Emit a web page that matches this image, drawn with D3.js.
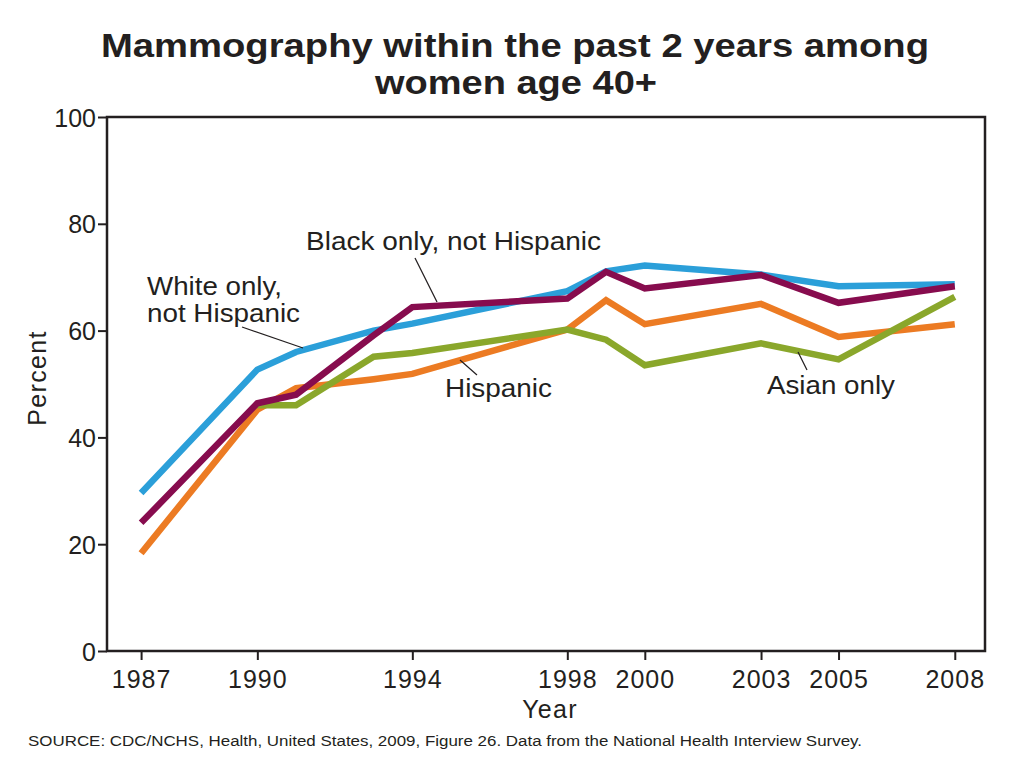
<!DOCTYPE html>
<html>
<head>
<meta charset="utf-8">
<script src="https://cdn.jsdelivr.net/npm/d3@7/dist/d3.min.js"></script>
<style>
  body { margin: 0; background: #fff; }
  text { font-family: "Liberation Sans", Arial, sans-serif; fill: #231f20; }
</style>
</head>
<body>
<div id="chart"></div>
<script>
const W = 1024, H = 768;
const X0 = 107, X1 = 985, Y0 = 117, Y1 = 651;

const years = [1987, 1990, 1991, 1993, 1994, 1998, 1999, 2000, 2003, 2005, 2008];
const tickYears = [1987, 1990, 1994, 1998, 2000, 2003, 2005, 2008];
const tickPct = [0, 20, 40, 60, 80, 100];

const white    = [29.6, 52.7, 56.0, 60.0, 61.3, 67.4, 71.1, 72.2, 70.5, 68.3, 68.7];
const black    = [24.0, 46.4, 48.0, 59.1, 64.4, 66.0, 71.0, 67.9, 70.4, 65.2, 68.3];
const hispanic = [18.3, 45.2, 49.2, 50.9, 51.9, 60.2, 65.7, 61.2, 65.0, 58.8, 61.2];
const asian    = [null, 46.0, 46.0, 55.1, 55.8, 60.2, 58.3, 53.5, 57.6, 54.6, 66.3];

const series = [
  { name: "White only, not Hispanic", values: white, color: "#2b9fd9" },
  { name: "Hispanic", values: hispanic, color: "#ec7b23" },
  { name: "Asian only", values: asian, color: "#8aa72b" },
  { name: "Black only, not Hispanic", values: black, color: "#870c4e" }
];

let svg = d3.select("#chart").append("svg").attr("width", W).attr("height", H);

let x = d3.scaleLinear().domain([1986.12, 2008.78]).range([X0, X1]);
let y = d3.scaleLinear().domain([0, 100]).range([Y1, Y0]);

// title (stretched a little to the width of the original)
svg.append("text").attr("x", 515).attr("y", 57).attr("text-anchor", "middle")
  .attr("font-size", 34).attr("font-weight", "bold")
  .attr("textLength", 828).attr("lengthAdjust", "spacingAndGlyphs")
  .text("Mammography within the past 2 years among");
svg.append("text").attr("x", 516).attr("y", 94).attr("text-anchor", "middle")
  .attr("font-size", 34).attr("font-weight", "bold")
  .attr("textLength", 282).attr("lengthAdjust", "spacingAndGlyphs")
  .text("women age 40+");

// frame
svg.append("rect").attr("x", X0).attr("y", Y0).attr("width", X1 - X0).attr("height", Y1 - Y0)
  .attr("fill", "none").attr("stroke", "#231f20").attr("stroke-width", 2.5);

// axes
let yAxis = svg.append("g").attr("transform", `translate(${X0},0)`)
  .call(d3.axisLeft(y).tickValues(tickPct).tickSize(9).tickPadding(2));
let xAxis = svg.append("g").attr("transform", `translate(0,${Y1})`)
  .call(d3.axisBottom(x).tickValues(tickYears).tickFormat(d3.format("d")).tickSize(9).tickPadding(5));
[yAxis, xAxis].forEach(g => {
  g.select(".domain").remove();
  g.selectAll("line").attr("stroke", "#231f20").attr("stroke-width", 2);
  g.selectAll("text").attr("font-size", 25).attr("fill", "#231f20")
    .attr("font-family", "'Liberation Sans', Arial, sans-serif");
});
xAxis.selectAll("text").attr("dy", "0.9em").attr("letter-spacing", 1);
yAxis.selectAll("text").attr("dy", "0.36em");

// axis titles
svg.append("text").attr("transform", "translate(46,378) rotate(-90)").attr("text-anchor", "middle")
  .attr("font-size", 25).attr("letter-spacing", 1.3).text("Percent");
svg.append("text").attr("x", 550).attr("y", 718).attr("text-anchor", "middle")
  .attr("font-size", 25).attr("letter-spacing", 1.3).text("Year");

// lines
let line = d3.line()
  .defined(d => d[1] != null)
  .x(d => x(d[0]))
  .y(d => y(d[1]));

series.forEach(s => {
  svg.append("path")
    .attr("d", line(years.map((yr, i) => [yr, s.values[i]])))
    .attr("fill", "none")
    .attr("stroke", s.color)
    .attr("stroke-width", 6.5)
    .attr("stroke-linejoin", "miter");
});

// labels + leaders
const labels = [
  { lines: ["White only,", "not Hispanic"], widths: [135, 153], x: 147, y: 295, lx1: 242, ly1: 327, lx2: 303, ly2: 348 },
  { lines: ["Black only, not Hispanic"], widths: [295], x: 306, y: 250, lx1: 415, ly1: 258, lx2: 437, ly2: 302 },
  { lines: ["Hispanic"], widths: [107], x: 445, y: 397, lx1: 460, ly1: 360, lx2: 477, ly2: 375 },
  { lines: ["Asian only"], widths: [128], x: 767, y: 394, lx1: 798, ly1: 352, lx2: 807, ly2: 370 }
];
labels.forEach(l => {
  l.lines.forEach((t, i) => {
    svg.append("text").attr("x", l.x).attr("y", l.y + i * 27).attr("font-size", 25)
      .attr("textLength", l.widths[i]).attr("lengthAdjust", "spacingAndGlyphs").text(t);
  });
  svg.append("line").attr("x1", l.lx1).attr("y1", l.ly1).attr("x2", l.lx2).attr("y2", l.ly2)
    .attr("stroke", "#231f20").attr("stroke-width", 1.2);
});

// source
svg.append("text").attr("x", 28).attr("y", 746).attr("font-size", 15.5)
  .attr("textLength", 834).attr("lengthAdjust", "spacingAndGlyphs")
  .text("SOURCE: CDC/NCHS, Health, United States, 2009, Figure 26. Data from the National Health Interview Survey.");
</script>
</body>
</html>
